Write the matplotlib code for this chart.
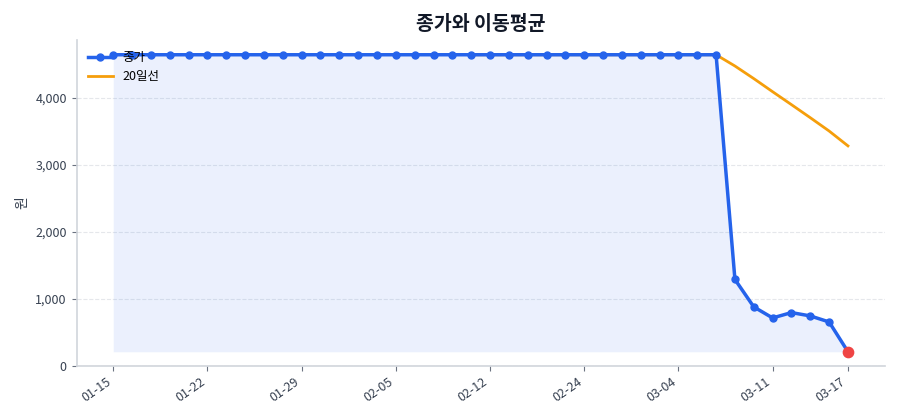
import numpy as np
import matplotlib
matplotlib.use('Agg')
import matplotlib.pyplot as plt
from matplotlib.ticker import FuncFormatter

plt.rcParams['font.family'] = ['Noto Sans CJK KR', 'DejaVu Sans']
plt.rcParams['axes.unicode_minus'] = False

# 종가 (40 거래일)
close = [4645] * 33 + [1290, 880, 715, 795, 745, 655, 210]
# 20일 이동평균 (앞 19일은 값 없음)
ma20 = [np.nan] * 19 + [4645] * 14 + [4477, 4289, 4093, 3900, 3705, 3506, 3284]
tick_idx = [0, 5, 10, 15, 20, 25, 30, 35, 39]
tick_labels = ['01-15', '01-22', '01-29', '02-05', '02-12', '02-24', '03-04', '03-11', '03-17']

x = np.arange(len(close))

fig, ax = plt.subplots(figsize=(9, 4.2), dpi=100)
fig.subplots_adjust(left=0.085, right=0.983, bottom=0.129, top=0.905)

ax.fill_between(x, close, min(close), color='#2563EB', alpha=0.09, linewidth=0)
ax.plot(x, close, color='#2563EB', linewidth=2.5, marker='o', markersize=5, label='종가', zorder=3)
ax.plot(x, ma20, color='#F59E0B', linewidth=2, label='20일선', zorder=2)
ax.scatter([x[-1]], [close[-1]], color='#EF4444', s=55, zorder=4)

ax.set_ylim(bottom=0)
ax.set_xticks(tick_idx)
ax.set_xticklabels(tick_labels, rotation=35, ha='right')
ax.yaxis.set_major_formatter(FuncFormatter(lambda v, p: f'{v:,.0f}'))

ax.set_title('종가와 이동평균', fontsize=14, fontweight='bold', color='#111827', pad=7)
ax.set_ylabel('원', fontsize=10, color='#374151')

ax.grid(axis='y', linestyle='--', color='#e5e7eb', linewidth=0.8)
ax.set_axisbelow(True)
for s in ['top', 'right']:
    ax.spines[s].set_visible(False)
for s in ['left', 'bottom']:
    ax.spines[s].set_color('#d1d5db')
    ax.spines[s].set_linewidth(1.2)
ax.tick_params(colors='#374151', labelsize=9)
ax.tick_params(axis='both', color='#6b7280')

ax.legend(loc='upper left', frameon=False, fontsize=9, borderaxespad=0.5)

plt.savefig('out.png', dpi=100)
